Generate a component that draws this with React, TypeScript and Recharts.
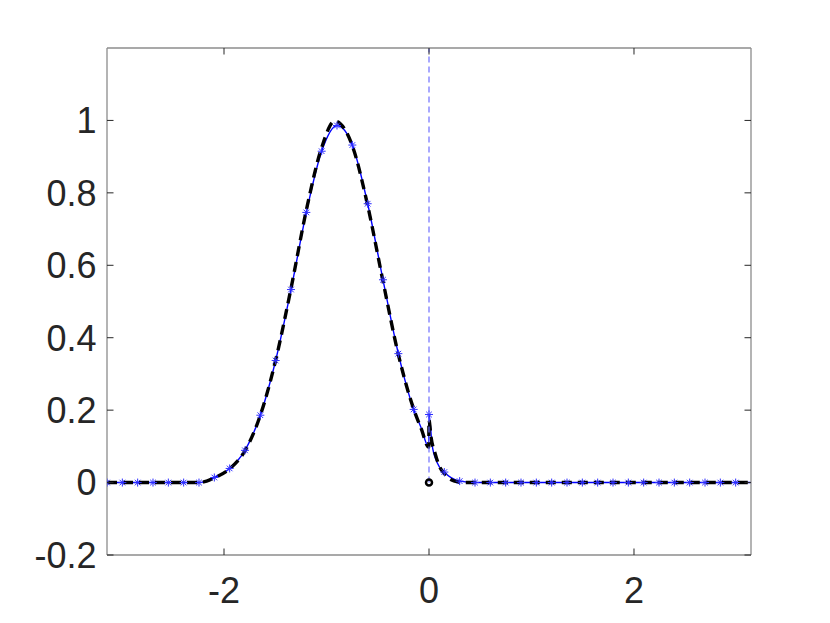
import React from 'react';
import { ComposedChart, Line, XAxis, YAxis, ReferenceLine } from 'recharts';

const PI = Math.PI;

// Marker (asterisk) grid and values of the blue numerical solution
const starX = [
  -3.1416, -2.992, -2.8424, -2.6928, -2.5432, -2.3936, -2.244, -2.0944, -1.9448, -1.7952,
  -1.6456, -1.496, -1.3464, -1.1968, -1.0472, -0.8976, -0.748, -0.5984, -0.4488, -0.2992,
  -0.1496, 0, 0.1496, 0.2992, 0.4488, 0.5984, 0.748, 0.8976, 1.0472, 1.1968,
  1.3464, 1.496, 1.6456, 1.7952, 1.9448, 2.0944, 2.244, 2.3936, 2.5432, 2.6928,
  2.8424, 2.992,
];
const starY = [
  0, 0, 0, 0, 0, 0, 0, 0.014, 0.039, 0.089,
  0.186, 0.337, 0.533, 0.746, 0.915, 0.986, 0.932, 0.77, 0.56, 0.356,
  0.202, 0.188, 0.029, 0.004, 0, 0, 0, 0, 0, 0,
  0, 0, 0, 0, 0, 0, 0, 0, 0, 0,
  0, 0,
];

// Blue solid line (finer near the discontinuity at x = 0)
const blueX = [
  -3.1416, -2.244, -2.0944, -1.9448, -1.7952, -1.6456, -1.496, -1.3464, -1.1968, -1.0472,
  -0.8976, -0.748, -0.5984, -0.4488, -0.2992, -0.1496, -0.075, -0.004, 0, 0.03,
  0.08, 0.1496, 0.2992, 0.4488, 3.1416,
];
const blueY = [
  0, 0, 0.014, 0.039, 0.089, 0.186, 0.337, 0.533, 0.746, 0.915,
  0.986, 0.932, 0.77, 0.56, 0.356, 0.202, 0.15, 0.098, 0.188, 0.105,
  0.055, 0.029, 0.004, 0, 0,
];

// Black dashed reference solution
const blackX = [
  -3.1416, -2.244, -2.17, -2.0944, -1.9448, -1.7952, -1.6456, -1.496, -1.3464, -1.1968,
  -1.0472, -0.92, -0.748, -0.5984, -0.4488, -0.2992, -0.1496, -0.075, -0.002, 0,
  0.02, 0.06, 0.1, 0.15, 0.2, 0.25, 0.3, 0.35, 3.1416,
];
const blackY = [
  0, 0, 0.004, 0.013, 0.038, 0.088, 0.186, 0.338, 0.536, 0.752,
  0.925, 0.998, 0.93, 0.765, 0.556, 0.354, 0.203, 0.148, 0.098, 0.172,
  0.125, 0.08, 0.046, 0.025, 0.011, 0.004, 0.001, 0, 0,
];

// Circle marker at the interface
const pointX = [0];
const pointY = [0];
// Vertical dashed line from y = 0 to the top
const interfaceX = 0;

const xTicks = [-2, 0, 2];
const yTicks = [-0.2, 0, 0.2, 0.4, 0.6, 0.8, 1];
const xDomain = [-PI, PI];
const yDomain = [-0.2, 1.2];

const toRows = (xs: number[], ys: number[]) => xs.map((x, i) => ({ x, y: ys[i] }));
const starData = toRows(starX, starY);
const blueData = toRows(blueX, blueY);
const blackData = toRows(blackX, blackY);
const pointData = toRows(pointX, pointY);

const FONT = '"Liberation Sans", Arial, Helvetica, sans-serif';
const TEXT = '#262626';
const TICK = '#262626';
const AXIS = '#8c8c8c';
const TL = 6.5;
const FS = 36;

const BottomTick = (p: any) => (
  <g>
    <line x1={p.x} y1={p.y} x2={p.x} y2={p.y - TL} stroke={TICK} strokeWidth={1} />
    <text x={p.x} y={p.y + 48} textAnchor="middle" fontSize={FS} fill={TEXT} fontFamily={FONT}>
      {String(p.payload.value)}
    </text>
  </g>
);
const LeftTick = (p: any) => (
  <g>
    <line x1={p.x} y1={p.y} x2={p.x + TL} y2={p.y} stroke={TICK} strokeWidth={1} />
    <text x={p.x - 10.5} y={p.y + 12.8} textAnchor="end" fontSize={FS} fill={TEXT} fontFamily={FONT}>
      {String(p.payload.value)}
    </text>
  </g>
);
const TopTick = (p: any) => (
  <line x1={p.x} y1={p.y} x2={p.x} y2={p.y + TL} stroke={TICK} strokeWidth={1} />
);
const RightTick = (p: any) => (
  <line x1={p.x} y1={p.y} x2={p.x - TL} y2={p.y} stroke={TICK} strokeWidth={1} />
);

const StarDot = (p: any) => {
  const { cx, cy, index } = p;
  if (cx == null || cy == null) return <g key={`s${index}`} />;
  const r = 4;
  const d = 2.8;
  return (
    <path
      key={`s${index}`}
      d={`M${cx - r},${cy}H${cx + r}M${cx},${cy - r}V${cy + r}M${cx - d},${cy - d}L${cx + d},${cy + d}M${cx - d},${cy + d}L${cx + d},${cy - d}`}
      stroke="#2e2eff"
      strokeWidth={1}
      fill="none"
    />
  );
};

const CircleDot = (p: any) => {
  const { cx, cy, index } = p;
  if (cx == null || cy == null) return <g key={`c${index}`} />;
  return <circle key={`c${index}`} cx={cx} cy={cy} r={3} stroke="#000" strokeWidth={2.5} fill="none" />;
};

export default function App() {
  return (
    <ComposedChart
      width={814}
      height={607}
      margin={{ top: 39, right: 70, bottom: 0, left: 0 }}
      style={{ background: '#fff' }}
    >
      <XAxis
        dataKey="x"
        type="number"
        domain={xDomain}
        ticks={xTicks}
        interval={0}
        allowDataOverflow
        height={60}
        tickSize={0}
        tickMargin={0}
        tickLine={false}
        axisLine={{ stroke: AXIS, strokeWidth: 1.3 }}
        tick={<BottomTick />}
      />
      <XAxis
        xAxisId="top"
        orientation="top"
        dataKey="x"
        type="number"
        domain={xDomain}
        ticks={xTicks}
        interval={0}
        allowDataOverflow
        height={1}
        tickSize={0}
        tickMargin={0}
        tickLine={false}
        axisLine={{ stroke: AXIS, strokeWidth: 1.3 }}
        tick={<TopTick />}
      />
      <YAxis
        type="number"
        domain={yDomain}
        ticks={yTicks}
        interval={0}
        allowDataOverflow
        width={99}
        tickSize={0}
        tickMargin={0}
        tickLine={false}
        axisLine={{ stroke: AXIS, strokeWidth: 1.3 }}
        tick={<LeftTick />}
      />
      <YAxis
        yAxisId="right"
        orientation="right"
        type="number"
        domain={yDomain}
        ticks={yTicks}
        interval={0}
        allowDataOverflow
        width={1}
        tickSize={0}
        tickMargin={0}
        tickLine={false}
        axisLine={{ stroke: AXIS, strokeWidth: 1.3 }}
        tick={<RightTick />}
      />
      <Line
        data={blueData}
        dataKey="y"
        type="monotone"
        stroke="#0000ff"
        strokeWidth={1.4}
        dot={false}
        activeDot={false}
        isAnimationActive={false}
      />
      <Line
        data={blackData}
        dataKey="y"
        type="monotone"
        stroke="#000"
        strokeWidth={3.4}
        strokeDasharray="10 6"
        dot={false}
        activeDot={false}
        isAnimationActive={false}
      />
      <Line
        data={starData}
        dataKey="y"
        stroke="none"
        dot={<StarDot />}
        activeDot={false}
        isAnimationActive={false}
      />
      <ReferenceLine
        segment={[
          { x: interfaceX, y: 0 },
          { x: interfaceX, y: yDomain[1] },
        ]}
        stroke="#6f6fff"
        strokeWidth={1.2}
        strokeDasharray="6 4"
      />
      <Line
        data={pointData}
        dataKey="y"
        stroke="none"
        dot={<CircleDot />}
        activeDot={false}
        isAnimationActive={false}
      />
    </ComposedChart>
  );
}
